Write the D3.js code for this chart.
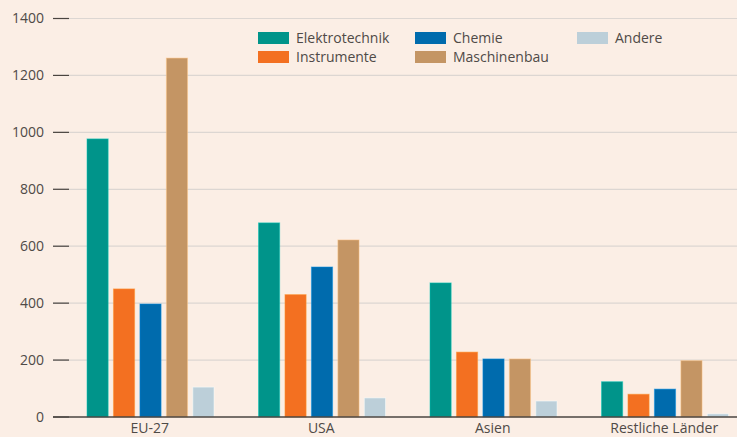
<!DOCTYPE html>
<html>
<head>
<meta charset="utf-8">
<script src="https://cdn.jsdelivr.net/npm/d3@7"></script>
<style>
  body { margin: 0; background: #fbeee5; }
  svg { display: block; font-family: "Open Sans", "Noto Sans", sans-serif; }
</style>
</head>
<body>
<div id="chart"></div>
<script>
// regions on the x axis
const regions = ["EU-27", "USA", "Asien", "Restliche Länder"];
// one array per sector, values per region
const sectors = ["Elektrotechnik", "Instrumente", "Chemie", "Maschinenbau", "Andere"];
const elektrotechnik = [977, 682, 471, 124];
const instrumente = [450, 430, 228, 80];
const chemie = [397, 527, 204, 98];
const maschinenbau = [1261, 622, 204, 198];
const andere = [105, 67, 56, 11];
const yTicks = [0, 200, 400, 600, 800, 1000, 1200, 1400];

const colors = ["#00948a", "#f37021", "#006bad", "#c49564", "#bccfd9"];
const seriesValues = [elektrotechnik, instrumente, chemie, maschinenbau, andere];

const width = 737, height = 437;
const margin = {left: 53, top: 18.5, bottom: 20};

const svg = d3.select("#chart").append("svg")
    .attr("width", width)
    .attr("height", height);

svg.append("rect").attr("width", width).attr("height", height).attr("fill", "#fbeee5");

const y = d3.scaleLinear()
    .domain([0, 1400])
    .range([height - margin.bottom, margin.top]);

const x0 = d3.scaleBand()
    .domain(regions)
    .range([64, 750]);

const x1 = d3.scaleBand()
    .domain(sectors)
    .range([23, 150])
    .paddingInner(0.2);

//Grid lines
svg.append("g").selectAll("line")
    .data(yTicks.slice(1))
    .join("line")
    .attr("x1", margin.left).attr("x2", width)
    .attr("y1", d => y(d)).attr("y2", d => y(d))
    .attr("stroke", "#dcd6d2")
    .attr("stroke-width", 1.2);

//Y axis tick marks + labels
const yAxis = svg.append("g");
yAxis.selectAll("line")
    .data(yTicks)
    .join("line")
    .attr("x1", margin.left).attr("x2", 69)
    .attr("y1", d => y(d)).attr("y2", d => y(d))
    .attr("stroke", "#4a4440")
    .attr("stroke-width", 1.2);
yAxis.selectAll("text")
    .data(yTicks)
    .join("text")
    .attr("x", 44)
    .attr("y", d => y(d))
    .attr("dy", "0.35em")
    .attr("text-anchor", "end")
    .attr("fill", "#4f4a47")
    .style("font-size", "14px")
    .text(d => d);

//Bars
const groups = svg.append("g").selectAll("g")
    .data(regions)
    .join("g")
    .attr("transform", d => `translate(${x0(d)},0)`);

groups.selectAll("rect")
    .data((d, i) => sectors.map((s, j) => ({sector: s, value: seriesValues[j][i], color: colors[j]})))
    .join("rect")
    .attr("x", d => x1(d.sector))
    .attr("width", x1.bandwidth())
    .attr("y", d => y(d.value))
    .attr("height", d => y(0) - y(d.value))
    .attr("fill", d => d.color)
    .attr("stroke", d => d3.color(d.color).brighter(0.8))
    .attr("stroke-opacity", 0.5)
    .attr("stroke-width", 1);

//Baseline
svg.append("line")
    .attr("x1", margin.left).attr("x2", width)
    .attr("y1", y(0)).attr("y2", y(0))
    .attr("stroke", "#4a4440")
    .attr("stroke-width", 1.5);

//Category labels
svg.append("g").selectAll("text")
    .data(regions)
    .join("text")
    .attr("x", d => x0(d) + x0.bandwidth() / 2)
    .attr("y", 433)
    .attr("text-anchor", "middle")
    .attr("fill", "#4f4a47")
    .style("font-size", "14px")
    .text(d => d);

//Legend
const legendPos = [[258, 32], [258, 51], [415, 32], [415, 51], [577, 32]];
const legend = svg.append("g").selectAll("g")
    .data(sectors)
    .join("g")
    .attr("transform", (d, i) => `translate(${legendPos[i][0]},${legendPos[i][1]})`);
legend.append("rect")
    .attr("width", 31).attr("height", 12)
    .attr("fill", (d, i) => colors[i]);
legend.append("text")
    .attr("x", 38).attr("y", 6)
    .attr("dy", "0.35em")
    .attr("fill", "#4f4a47")
    .style("font-size", "14px")
    .text(d => d);
</script>
</body>
</html>
